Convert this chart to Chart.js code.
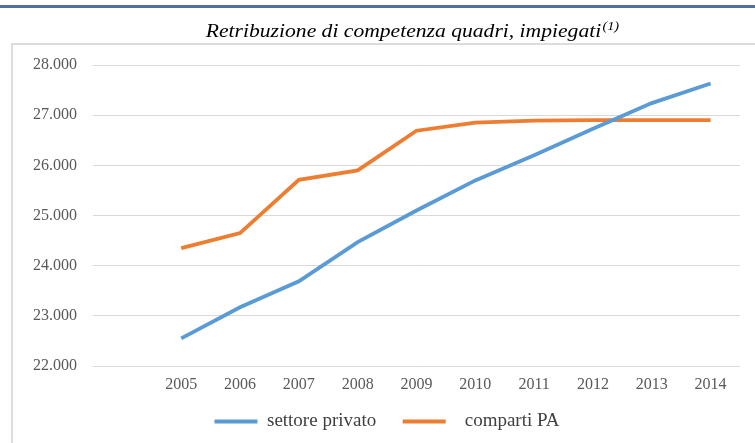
<!DOCTYPE html>
<html>
<head>
<meta charset="utf-8">
<script src="https://cdn.jsdelivr.net/npm/chart.js@4/dist/chart.umd.min.js"></script>
<style>
  html, body { margin: 0; padding: 0; background: #fff; }
  #wrap { position: relative; width: 755px; height: 443px; overflow: hidden; }
  #topline { position: absolute; left: 0; top: 5px; width: 755px; height: 3px; background: #52719a; }
  #frame { position: absolute; left: 11px; top: 43px; width: 800px; height: 450px; border: 2px solid #dcdcdc; }
  #chart { position: absolute; left: 0; top: 0; }
</style>
</head>
<body>
<div id="wrap">
  <div id="topline"></div>
  <div id="frame"></div>
  <canvas id="chart" width="755" height="443"></canvas>
</div>
<script>
// years on the x axis (first slot left empty)
const years = ["", "2005", "2006", "2007", "2008", "2009", "2010", "2011", "2012", "2013", "2014"];
// average pay, euro
const privato = [null, 22550, 23170, 23690, 24470, 25100, 25700, 26200, 26730, 27240, 27630];
const compartiPA = [null, 24350, 24650, 25710, 25900, 26690, 26850, 26890, 26900, 26900, 26900];
const yTicks = [22000, 23000, 24000, 25000, 26000, 27000, 28000];
// legend texts, padded with spaces to widen the gaps between entries
const seriesNames = ["settore privato  ", "  comparti PA"];

const serif = "'Liberation Serif', 'Times New Roman', serif";
const fmt = v => (v / 1000).toFixed(3);

// title with a raised footnote mark, centred over the plot area
const titlePlugin = {
  id: "titolo",
  afterLayout(chart) {
    // nudge the legend a little to the right
    const lg = chart.legend;
    if (lg) { lg.left += 8; lg.right += 8; }
  },
  afterDraw(chart) {
    const ctx = chart.ctx, a = chart.chartArea;
    const main = "Retribuzione di competenza quadri, impiegati";
    const note = "(1)";
    const sx = 1.2;
    ctx.save();
    ctx.fillStyle = "#000";
    ctx.textBaseline = "alphabetic";
    ctx.font = "italic 18px " + serif;
    const w1 = ctx.measureText(main).width;
    ctx.font = "italic 12px " + serif;
    const w2 = ctx.measureText(note).width;
    const cx = (a.left + a.right) / 2 - 4;
    ctx.translate(cx - (w1 + w2 + 1) * sx / 2, 0);
    ctx.scale(sx, 1);
    ctx.font = "italic 18px " + serif;
    ctx.fillText(main, 0, 37);
    ctx.font = "italic 12px " + serif;
    ctx.fillText(note, w1 + 1, 30);
    ctx.restore();
  }
};

new Chart(document.getElementById("chart"), {
  type: "line",
  data: {
    labels: years,
    datasets: [
      { label: seriesNames[0], data: privato, borderColor: "#5b9bd5", backgroundColor: "#5b9bd5", borderWidth: 3.8, pointRadius: 0, tension: 0 },
      { label: seriesNames[1], data: compartiPA, borderColor: "#ed7d31", backgroundColor: "#ed7d31", borderWidth: 3.8, pointRadius: 0, tension: 0 }
    ]
  },
  options: {
    responsive: false,
    animation: false,
    layout: { padding: { top: 65, left: 18, right: 15, bottom: 2 } },
    plugins: {
      title: { display: false },
      tooltip: { enabled: false },
      legend: {
        position: "bottom",
        labels: {
          boxWidth: 43, boxHeight: 0, padding: 17,
          color: "#404040",
          font: { family: serif, size: 19 }
        }
      }
    },
    scales: {
      x: {
        offset: true,
        grid: { display: false, drawTicks: false },
        border: { display: false },
        ticks: { color: "#595959", font: { family: serif, size: 16 }, padding: 9, maxRotation: 0 },
        afterFit: s => { s.height = 29; }
      },
      y: {
        min: 22000, max: 28000,
        afterBuildTicks: s => { s.ticks = yTicks.map(v => ({ value: v })); },
        grid: { color: "#d9d9d9", lineWidth: 1, drawTicks: false },
        border: { display: false },
        ticks: { color: "#595959", font: { family: serif, size: 16 }, padding: 16, callback: v => fmt(v) },
        afterFit: s => { s.width = 75; }
      }
    }
  },
  plugins: [titlePlugin]
});
</script>
</body>
</html>
